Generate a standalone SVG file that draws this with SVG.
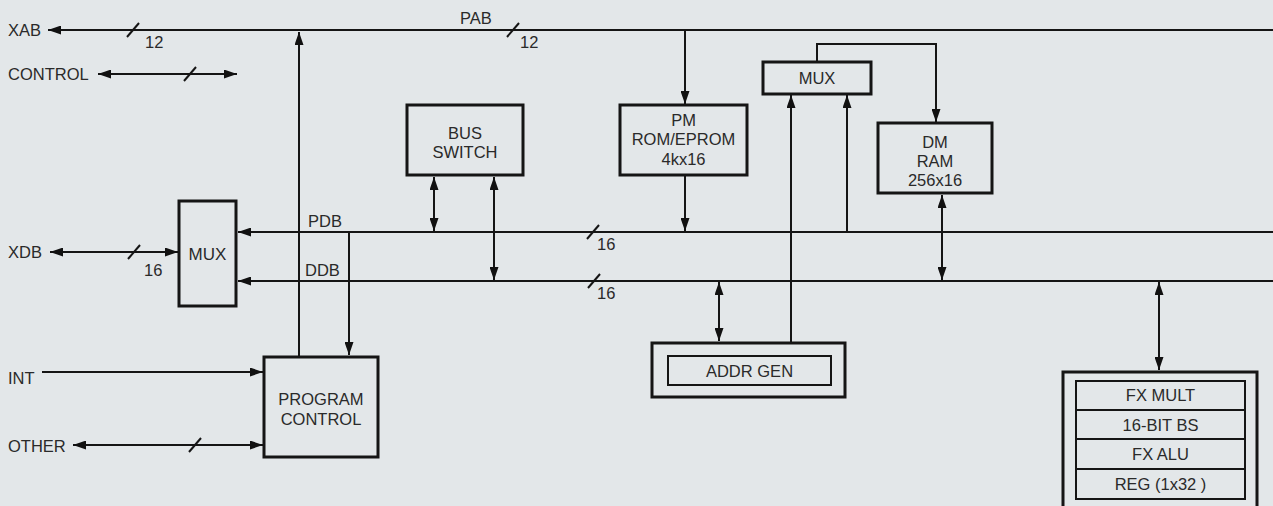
<svg xmlns="http://www.w3.org/2000/svg" width="1273" height="506" viewBox="0 0 1273 506">
<defs>
<marker id="ah" markerWidth="13" markerHeight="9" refX="13" refY="4.5" orient="auto-start-reverse" markerUnits="userSpaceOnUse">
<path d="M0,0 L13,4.5 L0,9 z" fill="#111"/>
</marker>
<style>
.bg{fill:#e3e7e9}
.box{fill:none;stroke:#151515;stroke-width:3}
.thin{fill:none;stroke:#151515;stroke-width:2}
.ln{fill:none;stroke:#151515;stroke-width:2}
.ar{marker-end:url(#ah)}
.dar{marker-start:url(#ah);marker-end:url(#ah)}
.sl{stroke:#151515;stroke-width:2}
text{font-family:"Liberation Sans",Arial,sans-serif;font-size:16.5px;fill:#2a2a2a}
.c{text-anchor:middle}
</style>
</defs>
<rect class="bg" x="0" y="0" width="1273" height="506"/>

<g id="connectors">
<!-- PAB / XAB -->
<line class="ln ar" x1="1273" y1="30" x2="48" y2="30"/>
<line class="sl" x1="127" y1="37" x2="139" y2="23"/>
<line class="sl" x1="507" y1="37" x2="519" y2="23"/>
<!-- CONTROL -->
<line class="ln dar" x1="98" y1="74" x2="237" y2="74"/>
<line class="sl" x1="184" y1="81" x2="196" y2="67"/>
<!-- PDB -->
<line class="ln ar" x1="1273" y1="232" x2="238" y2="232"/>
<line class="sl" x1="587" y1="239" x2="599" y2="225"/>
<!-- DDB -->
<line class="ln ar" x1="1273" y1="281" x2="238" y2="281"/>
<line class="sl" x1="588" y1="288" x2="600" y2="274"/>
<!-- XDB -->
<line class="ln dar" x1="50" y1="252" x2="178" y2="252"/>
<line class="sl" x1="128" y1="259" x2="140" y2="245"/>
<!-- Program control up to PAB -->
<line class="ln ar" x1="299" y1="356" x2="299" y2="32"/>
<!-- PDB down to program control -->
<line class="ln ar" x1="349" y1="232" x2="349" y2="355"/>
<!-- INT / OTHER -->
<line class="ln ar" x1="42" y1="372" x2="263" y2="372"/>
<line class="ln dar" x1="73" y1="445" x2="263" y2="445"/>
<line class="sl" x1="189" y1="452" x2="201" y2="438"/>
<!-- Bus switch -->
<line class="ln dar" x1="434" y1="177" x2="434" y2="231"/>
<line class="ln dar" x1="494" y1="177" x2="494" y2="280"/>
<!-- PM -->
<line class="ln ar" x1="685" y1="30" x2="685" y2="104"/>
<line class="ln ar" x1="685" y1="176" x2="685" y2="231"/>
<!-- MUX to DM -->
<polyline class="ln ar" points="817,62 817,44 936,44 936,122"/>
<!-- ADDR GEN to MUX -->
<line class="ln ar" x1="791" y1="342" x2="791" y2="95"/>
<line class="ln ar" x1="847" y1="232" x2="847" y2="95"/>
<!-- DM to DDB -->
<line class="ln dar" x1="942" y1="195" x2="942" y2="280"/>
<!-- DDB to ADDR GEN -->
<line class="ln dar" x1="719" y1="282" x2="719" y2="341"/>
<!-- DDB to FX -->
<line class="ln dar" x1="1159" y1="282" x2="1159" y2="370"/>
</g>

<g id="labels">
<text x="8" y="36">XAB</text>
<text x="145" y="48">12</text>
<text x="8" y="80">CONTROL</text>
<text x="460" y="24">PAB</text>
<text x="520" y="48">12</text>
<text x="8" y="258">XDB</text>
<text x="144" y="276">16</text>
<text x="308" y="227">PDB</text>
<text x="305" y="276">DDB</text>
<text x="597" y="250">16</text>
<text x="597" y="299">16</text>
<text x="8" y="384">INT</text>
<text x="8" y="452">OTHER</text>
</g>

<g id="mux-left">
<rect class="box" x="179" y="201" width="57" height="105"/>
<text class="c" x="207.5" y="260" style="font-size:17px">MUX</text>
</g>

<g id="program-control">
<rect class="box" x="264" y="357" width="114" height="100"/>
<text class="c" x="321" y="405">PROGRAM</text>
<text class="c" x="321" y="425">CONTROL</text>
</g>

<g id="bus-switch">
<rect class="box" x="407" y="105" width="116" height="70"/>
<text class="c" x="465" y="139">BUS</text>
<text class="c" x="465" y="158">SWITCH</text>
</g>

<g id="pm">
<rect class="box" x="620" y="105" width="127" height="70"/>
<text class="c" x="683.5" y="126">PM</text>
<text class="c" x="683.5" y="145">ROM/EPROM</text>
<text class="c" x="683.5" y="165">4kx16</text>
</g>

<g id="mux-top">
<rect class="box" x="763" y="62" width="108" height="32"/>
<text class="c" x="817" y="84">MUX</text>
</g>

<g id="dm">
<rect class="box" x="878" y="123" width="114" height="70"/>
<text class="c" x="935" y="148">DM</text>
<text class="c" x="935" y="167">RAM</text>
<text class="c" x="935" y="186">256x16</text>
</g>

<g id="addr-gen">
<rect class="box" x="652" y="343" width="193" height="54"/>
<rect class="thin" x="668" y="356" width="163" height="29"/>
<text class="c" x="749.5" y="377">ADDR GEN</text>
</g>

<g id="fx-unit">
<rect class="box" x="1063" y="372" width="194" height="140"/>
<rect class="thin" x="1076" y="381" width="169" height="118"/>
<line class="thin" x1="1076" y1="410" x2="1245" y2="410"/>
<line class="thin" x1="1076" y1="439" x2="1245" y2="439"/>
<line class="thin" x1="1076" y1="469" x2="1245" y2="469"/>
<text class="c" x="1160.5" y="401">FX MULT</text>
<text class="c" x="1160.5" y="431">16-BIT BS</text>
<text class="c" x="1160.5" y="460">FX ALU</text>
<text class="c" x="1160.5" y="490">REG (1x32 )</text>
</g>
</svg>
